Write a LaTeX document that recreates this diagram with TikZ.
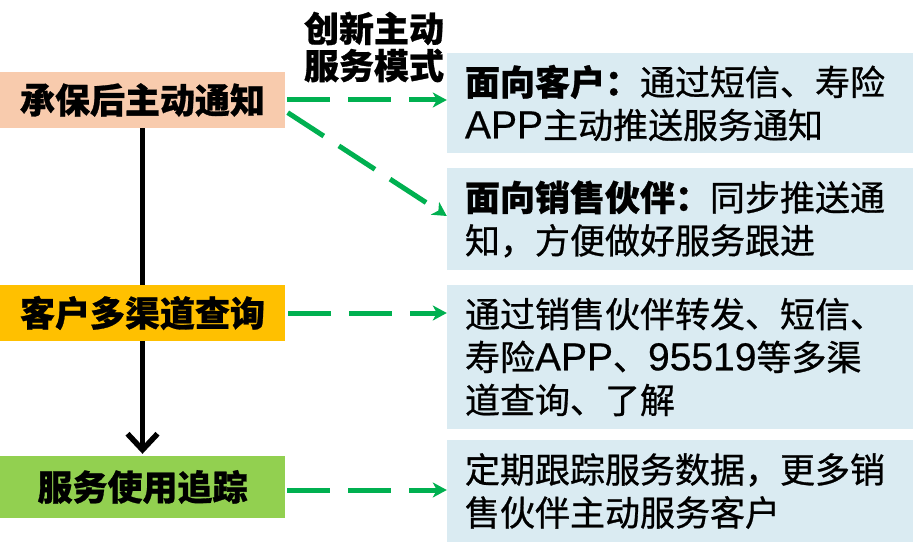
\documentclass[tikz,border=0pt]{standalone}
\usepackage{fontspec}
\setmainfont{Noto Sans CJK SC}[UprightFeatures={FakeBold=0.8}, BoldFeatures={FakeBold=0.8}]
\newfontfamily\latinfont{Liberation Sans}[FakeBold=0.5]
\usetikzlibrary{arrows.meta}
\definecolor{peach}{HTML}{F8CBAD}
\definecolor{gold}{HTML}{FFC000}
\definecolor{lgreen}{HTML}{92D050}
\definecolor{lblue}{HTML}{DAEBF2}
\definecolor{agreen}{HTML}{00B050}
\newcommand{\lat}[1]{{\latinfont\fontsize{39pt}{43pt}\selectfont #1}}
\begin{document}
\begin{tikzpicture}[x=1pt,y=-1pt,
  leftbox/.style={draw=none, minimum width=285pt, inner sep=0pt,
    font=\fontsize{35pt}{43pt}\selectfont\bfseries},
  rightbox/.style={fill=lblue, draw=none, text width=430pt, inner xsep=18pt,
    inner ysep=0pt, align=left, font=\fontsize{35pt}{43pt}\selectfont},
  garrow/.style={draw=agreen, line width=5pt, dash pattern=on 43pt off 18pt,
    -{Stealth[length=14pt, width=15pt, inset=4pt]}},
  karrow/.style={draw=black, line width=5.5pt}
]
\useasboundingbox (0,0) rectangle (917,548);

\node[leftbox, fill=peach, minimum height=56pt] (b1) at (142.5,100) {承保后主动通知};
\node[leftbox, fill=gold, minimum height=56pt] (b2) at (142.5,313) {客户多渠道查询};
\node[leftbox, fill=lgreen, minimum height=62pt] (b3) at (142.5,487) {服务使用追踪};

\node[font=\fontsize{35pt}{37pt}\selectfont\bfseries, align=center, inner sep=0pt] (title) at (374,47) {创新主动\\服务模式};

\node[rightbox, minimum height=100pt] (rA) at (680,103) {{\bfseries 面向客户：}通过短信、寿险\\\lat{APP}主动推送服务通知};
\node[rightbox, minimum height=102pt] (rB) at (680,219) {{\bfseries 面向销售伙伴：}同步推送通\\知，方便做好服务跟进};
\node[rightbox, minimum height=144pt] (rC) at (680,357) {通过销售伙伴转发、短信、\\寿险\lat{APP}、\lat{95519}等多渠\\道查询、了解};
\node[rightbox, minimum height=102pt] (rD) at (680,491) {定期跟踪服务数据，更多销\\售伙伴主动服务客户};

\draw[karrow] (b1.south) -- (b2.north);
\draw[karrow, -{Straight Barb[length=16pt, width=30pt, line width=5.5pt]}] (b2.south) -- ([yshift=2pt]b3.north);

\draw[garrow, shorten <=2pt] (b1.east) -- (b1.east -| rA.west);
\draw[garrow, shorten <=3pt] ([yshift=-11pt]b1.east) -- ([yshift=3pt]rB.west);
\draw[garrow, shorten <=3pt] (b2.east) -- (b2.east -| rC.west);
\draw[garrow, shorten <=2pt] ([yshift=-3pt]b3.east) -- ([yshift=-3pt]b3.east -| rD.west);
\end{tikzpicture}
\end{document}
